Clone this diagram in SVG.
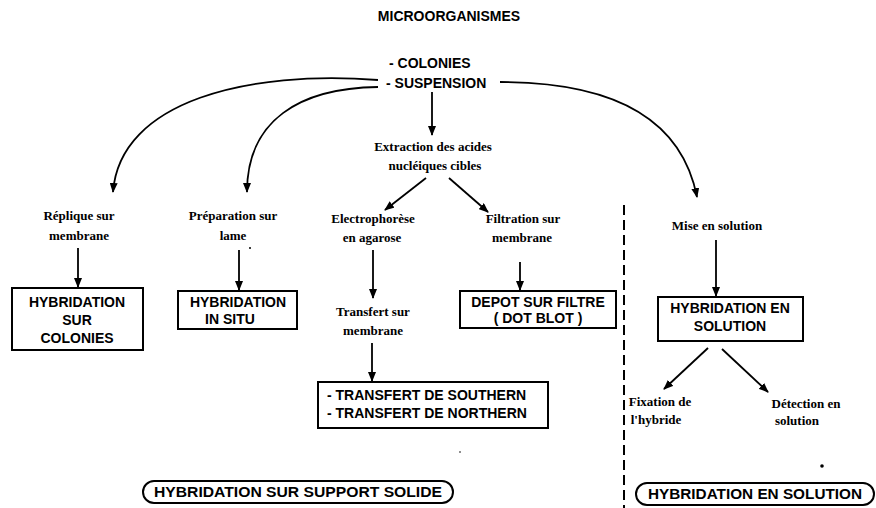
<svg xmlns="http://www.w3.org/2000/svg" width="876" height="508" viewBox="0 0 876 508">
<defs>
<marker id="ah" markerUnits="userSpaceOnUse" markerWidth="10" markerHeight="8" refX="9" refY="4" orient="auto">
<path d="M0,0 L10,4 L0,8 z" fill="#000"/>
</marker>
<style>
.bg{fill:#fff}
.ln{fill:none;stroke:#000;stroke-width:1.8;marker-end:url(#ah)}
.box{fill:#fff;stroke:#000;stroke-width:2}
.pill{fill:#fff;stroke:#000;stroke-width:2}
.cap{font-family:"Liberation Sans",Arial,sans-serif;font-weight:bold;font-size:14px;fill:#000}
.lab{font-family:"Liberation Serif","Times New Roman",serif;font-weight:bold;font-size:13px;fill:#000}
.mid{text-anchor:middle}
.dash{stroke:#000;stroke-width:2;stroke-dasharray:10 5;fill:none}
</style>
</defs>
<rect class="bg" width="876" height="508"/>

<g id="title"><text class="cap mid" x="449" y="21" font-size="11.5">MICROORGANISMES</text></g>
<g id="source">
<text class="cap" x="389" y="68" font-size="11.5">- COLONIES</text>
<text class="cap" x="386" y="88" font-size="11.5">- SUSPENSION</text>
</g>
<g id="extraction">
<text class="lab mid" x="433" y="151">Extraction des acides</text>
<text class="lab mid" x="435" y="170">nucléiques cibles</text>
</g>
<g id="replique">
<text class="lab mid" x="79" y="220">Réplique sur</text>
<text class="lab mid" x="79" y="240">membrane</text>
</g>
<g id="preparation">
<text class="lab mid" x="233" y="220">Préparation sur</text>
<text class="lab mid" x="233" y="240">lame</text>
</g>
<g id="electrophorese">
<text class="lab mid" x="373" y="223">Electrophorèse</text>
<text class="lab mid" x="372" y="242">en agarose</text>
</g>
<g id="filtration">
<text class="lab mid" x="523" y="223">Filtration sur</text>
<text class="lab mid" x="522" y="242">membrane</text>
</g>
<g id="mise">
<text class="lab mid" x="717" y="230">Mise en solution</text>
</g>
<g id="transfert-label">
<text class="lab mid" x="373" y="316">Transfert sur</text>
<text class="lab mid" x="373" y="335">membrane</text>
</g>
<g id="fixation">
<text class="lab mid" x="660" y="406">Fixation de</text>
<text class="lab mid" x="656" y="424">l'hybride</text>
</g>
<g id="detection">
<text class="lab mid" x="806" y="408">Détection en</text>
<text class="lab mid" x="797" y="425">solution</text>
</g>

<g id="box-colonies">
<rect class="box" x="12" y="288" width="131" height="62"/>
<text class="cap mid" x="77" y="307">HYBRIDATION</text>
<text class="cap mid" x="77" y="325">SUR</text>
<text class="cap mid" x="77" y="343">COLONIES</text>
</g>
<g id="box-insitu">
<rect class="box" x="178" y="291" width="119" height="38"/>
<text class="cap mid" x="238" y="307">HYBRIDATION</text>
<text class="cap mid" x="230" y="324">IN SITU</text>
</g>
<g id="box-depot">
<rect class="box" x="460" y="291" width="156" height="37"/>
<text class="cap mid" x="538" y="307">DEPOT SUR FILTRE</text>
<text class="cap mid" x="538" y="323">( DOT BLOT )</text>
</g>
<g id="box-solution">
<rect class="box" x="658" y="297" width="145" height="44"/>
<text class="cap mid" x="730" y="313">HYBRIDATION EN</text>
<text class="cap mid" x="730" y="331">SOLUTION</text>
</g>
<g id="box-transfert">
<rect class="box" x="318" y="382" width="230" height="46"/>
<text class="cap" x="327" y="400">- TRANSFERT DE SOUTHERN</text>
<text class="cap" x="327" y="418">- TRANSFERT DE NORTHERN</text>
</g>

<g id="pill-solide">
<rect class="pill" x="143" y="481" width="310" height="22" rx="11"/>
<text class="cap mid" x="298" y="497" textLength="288" lengthAdjust="spacingAndGlyphs">HYBRIDATION SUR SUPPORT SOLIDE</text>
</g>
<g id="pill-solution">
<rect class="pill" x="636" y="483" width="238" height="22" rx="11"/>
<text class="cap mid" x="755" y="499" textLength="214" lengthAdjust="spacingAndGlyphs">HYBRIDATION EN SOLUTION</text>
</g>

<g id="connectors">
<path class="ln" d="M378,80 C250,70 120,100 113,192"/>
<path class="ln" d="M378,87 C300,88 247,120 247,192"/>
<path class="ln" d="M500,82 C600,82 680,110 697,197"/>
<path class="ln" d="M432,92 L432,135"/>
<path class="ln" d="M426,178 L385,210"/>
<path class="ln" d="M449,178 L488,212"/>
<path class="ln" d="M78,248 L78,287"/>
<path class="ln" d="M239,250 L239,290"/>
<path class="ln" d="M373,250 L373,298"/>
<path class="ln" d="M520,262 L520,290"/>
<path class="ln" d="M716,240 L716,296"/>
<path class="ln" d="M372,343 L372,381"/>
<path class="ln" d="M708,348 L664,389"/>
<path class="ln" d="M722,349 L768,392"/>
</g>
<g id="divider">
<path class="dash" d="M624,205 L624,508"/>
</g>
<g id="specks">
<circle cx="822" cy="466" r="1.8" fill="#000"/>
<circle cx="250" cy="248" r="1" fill="#000"/>
<circle cx="460" cy="452" r="0.8" fill="#000"/>
</g>
</svg>
